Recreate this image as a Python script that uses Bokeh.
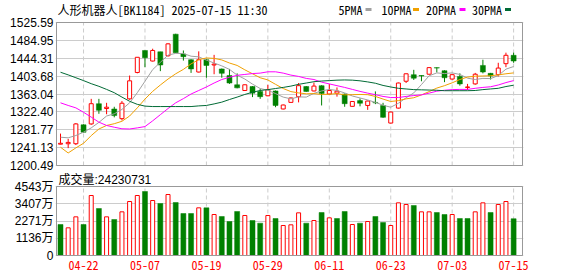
import numpy as np
from bokeh.plotting import figure
from bokeh.layouts import column
from bokeh.models import Range1d, FixedTicker
from bokeh.core.properties import value
from bokeh.embed import file_html
from bokeh.resources import INLINE

# ---------------- data ----------------
board_name = "人形机器人"
board_code = "BK1184"
timestamp = "2025-07-15 11:30"

dates = ["04-17", "04-18", "04-21", "04-22", "04-23", "04-24", "04-25", "04-28", "04-29", "04-30",
         "05-06", "05-07", "05-08", "05-09", "05-12", "05-13", "05-14", "05-15", "05-16", "05-19",
         "05-20", "05-21", "05-22", "05-23", "05-26", "05-27", "05-28", "05-29", "05-30", "06-03",
         "06-04", "06-05", "06-06", "06-09", "06-10", "06-11", "06-12", "06-13", "06-16", "06-17",
         "06-18", "06-19", "06-20", "06-23", "06-24", "06-25", "06-26", "06-27", "06-30", "07-01",
         "07-02", "07-03", "07-04", "07-07", "07-08", "07-09", "07-10", "07-11", "07-14", "07-15"]

open_p = [1249, 1250, 1250, 1293, 1295, 1341, 1330, 1329, 1307, 1352,
          1412, 1462, 1438, 1459, 1450, 1499, 1454, 1441, 1413, 1441,
          1429, 1420, 1405, 1384, 1371, 1380, 1369, 1359, 1370, 1329,
          1344, 1357, 1380, 1370, 1382, 1363, 1365, 1363, 1335, 1348,
          1337, 1344, 1337, 1297, 1331, 1392, 1407, 1405, 1408, 1423,
          1416, 1397, 1403, 1378, 1386, 1428, 1410, 1407, 1432, 1451]
high_p = [1273, 1261, 1297, 1294, 1352, 1352, 1343, 1334, 1347, 1405,
          1447, 1462, 1466, 1459, 1479, 1500, 1462, 1442, 1460, 1443,
          1452, 1421, 1420, 1410, 1385, 1381, 1375, 1384, 1371, 1339,
          1355, 1388, 1381, 1389, 1383, 1386, 1378, 1364, 1347, 1353,
          1348, 1369, 1343, 1323, 1389, 1410, 1418, 1405.5, 1424, 1423.5,
          1417, 1408, 1410, 1386, 1411, 1441, 1411, 1434, 1457, 1457]
low_p = [1248, 1240, 1247, 1275, 1293, 1318, 1317, 1310, 1303, 1350,
         1410, 1424, 1437, 1415, 1448, 1456, 1439, 1411, 1412, 1400,
         1408, 1400, 1386, 1376, 1370, 1356, 1352, 1358, 1333, 1328,
         1343, 1344, 1368, 1369, 1337, 1362, 1357, 1334, 1334, 1335,
         1327, 1340, 1309, 1296, 1330, 1388, 1395, 1392, 1407, 1412,
         1390, 1396, 1382, 1372, 1384, 1410, 1396, 1403, 1424, 1434]
close_p = [1251, 1253, 1295, 1276, 1341, 1326, 1333, 1314, 1342, 1393,
           1446.5, 1445.5, 1462, 1429, 1477, 1457, 1448, 1420, 1441, 1428,
           1431, 1410, 1388, 1377, 1384, 1365, 1357, 1373, 1337, 1338,
           1354, 1382, 1369, 1381, 1364, 1371, 1369.5, 1341, 1346, 1342,
           1347, 1343, 1310, 1322, 1388, 1409, 1399, 1404, 1423, 1422,
           1400, 1407, 1386, 1379, 1408, 1413, 1404, 1422, 1451, 1438]
close_before_first = 1262.0

# volume in 万 (10,000 shares)
volume_wan = [2041, 1822, 2546, 2041, 3950, 3094, 2546, 2370, 2875, 3555,
              3950, 4214, 3621, 3424, 4016, 3489, 2765, 2765, 3138, 3138,
              2699, 2568, 2239, 2897, 2634, 2304, 2129, 2634, 2436, 1975,
              2019, 2809, 2129, 2304, 2831, 2480, 2436, 2897, 2041, 2129,
              2239, 2568, 2173, 1975, 3467, 3358, 3292, 2875, 2875, 2831,
              2699, 2699, 2436, 2436, 2875, 3467, 2831, 3358, 3555, 2423]
last_volume = 24230731

ma5 = [1264.8, 1263.4, 1268.7, 1276.2, 1286.0, 1298.5, 1313.0, 1318.0, 1328.0, 1343.0,
       1366.0, 1392.0, 1418.5, 1435.0, 1451.5, 1455.5, 1455.0, 1449.0, 1447.5, 1440.0,
       1433.5, 1427.0, 1419.0, 1406.0, 1397.0, 1385.5, 1375.5, 1371.5, 1364.0, 1356.0,
       1352.0, 1356.5, 1356.0, 1364.5, 1370.0, 1373.5, 1371.0, 1365.5, 1358.5, 1354.0,
       1349.5, 1344.0, 1337.5, 1333.0, 1342.0, 1354.5, 1365.5, 1384.5, 1404.5, 1411.0,
       1409.5, 1411.0, 1407.5, 1399.0, 1396.0, 1398.5, 1398.0, 1405.0, 1419.5, 1425.5]
ma10 = [1242.0, 1229.0, 1240.5, 1251.0, 1268.5, 1283.5, 1291.5, 1295.5, 1301.0, 1313.0,
        1331.5, 1351.5, 1369.0, 1383.5, 1397.0, 1409.0, 1419.0, 1431.5, 1441.0, 1445.0,
        1444.0, 1440.5, 1433.5, 1428.0, 1418.0, 1409.0, 1400.0, 1395.0, 1385.0, 1375.5,
        1368.5, 1365.5, 1363.5, 1364.0, 1362.0, 1362.5, 1364.0, 1361.0, 1361.5, 1362.0,
        1361.5, 1357.5, 1351.5, 1346.0, 1348.0, 1352.0, 1354.5, 1361.0, 1368.5, 1376.5,
        1382.0, 1388.5, 1396.0, 1401.5, 1403.5, 1404.0, 1404.5, 1406.5, 1409.0, 1411.0]
ma20 = [1343.0, 1337.0, 1331.5, 1321.5, 1310.5, 1299.0, 1291.5, 1287.5, 1284.0, 1283.5,
        1286.0, 1289.0, 1302.0, 1316.0, 1330.0, 1343.0, 1352.5, 1363.0, 1371.0, 1379.0,
        1388.0, 1396.0, 1401.0, 1405.5, 1407.5, 1409.5, 1410.5, 1413.5, 1413.5, 1410.5,
        1406.0, 1403.0, 1398.5, 1396.0, 1390.0, 1386.0, 1382.0, 1378.0, 1373.5, 1369.0,
        1365.0, 1361.5, 1357.5, 1355.0, 1355.0, 1357.5, 1359.5, 1361.0, 1365.0, 1369.5,
        1371.5, 1373.0, 1373.5, 1373.5, 1376.0, 1378.0, 1379.5, 1383.5, 1389.0, 1393.5]
ma30 = [1412.5, 1406.5, 1400.0, 1393.5, 1386.5, 1380.5, 1373.5, 1366.0, 1356.0, 1346.5,
        1339.5, 1335.5, 1334.5, 1334.5, 1334.5, 1334.5, 1334.5, 1334.5, 1336.0, 1337.0,
        1340.5, 1344.5, 1350.5, 1356.0, 1362.0, 1367.0, 1371.0, 1373.0, 1375.5, 1378.0,
        1381.0, 1385.0, 1388.0, 1391.0, 1392.5, 1393.5, 1394.5, 1395.0, 1394.5, 1393.0,
        1390.5, 1387.5, 1382.5, 1379.0, 1376.0, 1374.5, 1373.0, 1372.5, 1372.0, 1371.5,
        1370.5, 1370.5, 1370.5, 1370.5, 1371.0, 1373.0, 1374.5, 1376.0, 1380.0, 1383.0]
ma_labels = ["5PMA", "10PMA", "20PMA", "30PMA"]

price_tick_values = [1200.49, 1241.13, 1281.77, 1322.40, 1363.04, 1403.68, 1444.31, 1484.95, 1525.59]
price_tick_labels = ["1200.49", "1241.13", "1281.77", "1322.40", "1363.04", "1403.68", "1444.31", "1484.95", "1525.59"]
vol_tick_values = [0, 1136, 2271, 3407, 4543]
vol_tick_labels = ["0", "1136万", "2271万", "3407万", "4543万"]
date_tick_labels = ["04-22", "05-07", "05-19", "05-29", "06-11", "06-23", "07-03", "07-15"]

# ---------------- style / layout ----------------
RED = "#ff0000"
GREEN = "#008000"
MA_COLORS = ["#a0a0a0", "#f0a000", "#ff00ff", "#006a35"]
GRID = "#cccccc"
FRAME = "#999999"
MONO = "'Noto Sans Mono CJK SC', 'DejaVu Sans Mono', monospace"
SANS = "'Liberation Sans', 'Noto Sans CJK SC', sans-serif"

W = 578
BAR_PX = 7.68          # pixels between bars
X0_PX = 60.0           # pixel of first bar
FRAME_L, FRAME_R = 55, 523
BOX_L, BOX_R = 56, 522
BODY_RED = 4.0 / BAR_PX
BODY_GREEN = 5.0 / BAR_PX


def px_to_idx(px):
    return (px - X0_PX) / BAR_PX


n = len(dates)
idx = np.arange(n)
o = np.array(open_p, float)
h = np.array(high_p, float)
l = np.array(low_p, float)
c = np.array(close_p, float)
up = c >= o
dn = ~up
body_top = np.maximum(o, c)
body_bot = np.minimum(o, c)
prev_c = np.concatenate([[close_before_first], c[:-1]])
vol = np.array(volume_wan, float)
vol_up = c >= prev_c
tick_idx = [dates.index(d) for d in date_tick_labels]

x_range = Range1d(px_to_idx(FRAME_L), px_to_idx(FRAME_R))

# ---------------- price figure ----------------
A_H = 172
PRICE_TOP_PX, PRICE_BOT_PX, A_FRAME_BOT = 22, 165, 170
p_lo, p_hi = price_tick_values[0], price_tick_values[-1]
ppu = (PRICE_BOT_PX - PRICE_TOP_PX) / (p_hi - p_lo)


def a_px_to_y(py):
    return p_lo + (PRICE_BOT_PX - py) / ppu


pA = figure(width=W, height=A_H, x_range=x_range,
            y_range=Range1d(a_px_to_y(A_FRAME_BOT), a_px_to_y(0)),
            output_backend="svg", toolbar_location=None, tools="",
            x_axis_location=None, y_axis_location="left",
            min_border_left=FRAME_L, min_border_right=W - FRAME_R,
            min_border_top=0, min_border_bottom=A_H - A_FRAME_BOT)
pA.outline_line_color = None
pA.background_fill_color = "white"
pA.border_fill_color = "white"
pA.xgrid.visible = False
pA.ygrid.ticker = FixedTicker(ticks=price_tick_values)
pA.ygrid.grid_line_color = GRID
ya = pA.yaxis[0]
ya.ticker = FixedTicker(ticks=price_tick_values)
ya.major_label_overrides = {v: s for v, s in zip(price_tick_values, price_tick_labels)}
ya.axis_line_color = None
ya.major_tick_line_color = None
ya.minor_tick_line_color = None
ya.major_tick_out = 0
ya.major_tick_in = 0
ya.major_label_standoff = 2
ya.major_label_text_font = SANS
ya.major_label_text_font_size = "12px"
ya.major_label_text_color = "#000000"

# vertical dashed grid
pA.segment(x0=tick_idx, y0=[p_lo] * len(tick_idx), x1=tick_idx, y1=[p_hi] * len(tick_idx),
           line_color=GRID, line_width=1, line_dash="4 3")

# candles: green (down) filled
pA.segment(x0=idx[dn], y0=h[dn], x1=idx[dn], y1=l[dn], line_color=GREEN, line_width=1)
pA.vbar(x=idx[dn], width=BODY_GREEN, top=body_top[dn], bottom=body_bot[dn],
        fill_color=GREEN, line_color=GREEN, line_width=0.5)
# red (up) hollow
pA.segment(x0=idx[up], y0=h[up], x1=idx[up], y1=body_top[up], line_color=RED, line_width=1)
pA.segment(x0=idx[up], y0=body_bot[up], x1=idx[up], y1=l[up], line_color=RED, line_width=1)
pA.vbar(x=idx[up], width=BODY_RED, top=body_top[up], bottom=body_bot[up],
        fill_color="white", line_color=RED, line_width=1)

# moving averages
for ma, col in zip([ma5, ma10, ma20, ma30], MA_COLORS):
    pA.line(idx, ma, line_color=col, line_width=1)

# frame box
pA.quad(left=[px_to_idx(BOX_L)], right=[px_to_idx(BOX_R)], bottom=[p_lo], top=[p_hi],
        fill_color=None, line_color=FRAME, line_width=1)

# header: title + legend
pA.text(x=[px_to_idx(57)], y=[a_px_to_y(9)],
        text=[f"{board_name}[{board_code}] {timestamp}"],
        text_font=value(MONO), text_font_size="12px", text_color="#000000",
        text_align="left", text_baseline="middle")
legend_text_px = [338, 381, 425.5, 471.5]
legend_sw_px = [365, 412.5, 459, 504.5]
pA.text(x=[px_to_idx(v) for v in legend_text_px], y=[a_px_to_y(9)] * 4, text=ma_labels,
        text_font=value(MONO), text_font_size="12px", text_color="#000000",
        text_align="left", text_baseline="middle")
pA.quad(left=[px_to_idx(v) for v in legend_sw_px], right=[px_to_idx(v + 6) for v in legend_sw_px],
        bottom=[a_px_to_y(10.5)] * 4, top=[a_px_to_y(7.5)] * 4,
        fill_color=MA_COLORS, line_color=None)

# ---------------- volume figure ----------------
B_TOP_WIN = A_H
B_H = 276 - B_TOP_WIN
VOL_TOP_PX, VOL_BOT_PX = 186 - B_TOP_WIN, 255 - B_TOP_WIN
B_FRAME_BOT = VOL_BOT_PX + 2
v_lo, v_hi = vol_tick_values[0], vol_tick_values[-1]
ppv = (VOL_BOT_PX - VOL_TOP_PX) / (v_hi - v_lo)


def b_px_to_y(py):
    return v_lo + (VOL_BOT_PX - py) / ppv


pB = figure(width=W, height=B_H, x_range=x_range,
            y_range=Range1d(b_px_to_y(B_FRAME_BOT), b_px_to_y(0)),
            output_backend="svg", toolbar_location=None, tools="",
            min_border_left=FRAME_L, min_border_right=W - FRAME_R,
            min_border_top=0, min_border_bottom=B_H - B_FRAME_BOT)
pB.outline_line_color = None
pB.background_fill_color = "white"
pB.border_fill_color = "white"
pB.xgrid.visible = False
pB.ygrid.ticker = FixedTicker(ticks=vol_tick_values)
pB.ygrid.grid_line_color = GRID
yb = pB.yaxis[0]
yb.ticker = FixedTicker(ticks=vol_tick_values)
yb.major_label_overrides = {v: s for v, s in zip(vol_tick_values, vol_tick_labels)}
yb.axis_line_color = None
yb.major_tick_line_color = None
yb.minor_tick_line_color = None
yb.major_tick_out = 0
yb.major_tick_in = 0
yb.major_label_standoff = 2
yb.major_label_text_font = SANS
yb.major_label_text_font_size = "12px"
yb.major_label_text_color = "#000000"
xb = pB.xaxis[0]
xb.ticker = FixedTicker(ticks=tick_idx)
xb.major_label_overrides = {i: d for i, d in zip(tick_idx, date_tick_labels)}
xb.axis_line_color = None
xb.major_tick_line_color = None
xb.minor_tick_line_color = None
xb.major_tick_out = 0
xb.major_tick_in = 0
xb.major_label_standoff = 3
xb.major_label_text_font = MONO
xb.major_label_text_font_size = "12px"
xb.major_label_text_color = RED

pB.segment(x0=tick_idx, y0=[v_lo] * len(tick_idx), x1=tick_idx, y1=[v_hi] * len(tick_idx),
           line_color=GRID, line_width=1, line_dash="4 3")
pB.vbar(x=idx[~vol_up], width=BODY_GREEN, top=vol[~vol_up], bottom=0,
        fill_color=GREEN, line_color=GREEN, line_width=0.5)
pB.vbar(x=idx[vol_up], width=BODY_RED, top=vol[vol_up], bottom=0,
        fill_color="white", line_color=RED, line_width=1)
pB.quad(left=[px_to_idx(BOX_L)], right=[px_to_idx(BOX_R)], bottom=[v_lo], top=[v_hi],
        fill_color=None, line_color=FRAME, line_width=1)
pB.text(x=[px_to_idx(58)], y=[b_px_to_y(0.5)], text=[f"成交量:{last_volume}"],
        text_font=value(SANS), text_font_size="12px", text_color="#000000",
        text_align="left", text_baseline="top")

layout = column(pA, pB, spacing=0)
open("out.html", "w").write(file_html(layout, INLINE))
